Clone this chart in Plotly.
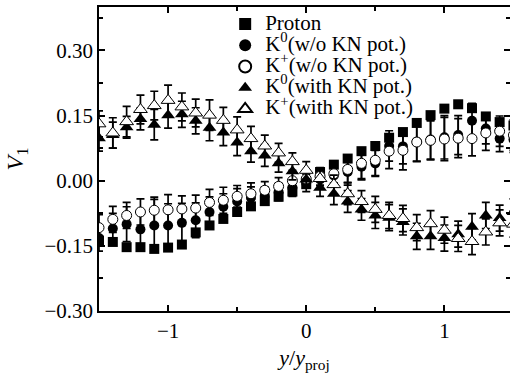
import plotly.graph_objects as go

x_vals = [-1.5, -1.4, -1.3, -1.2, -1.1, -1.0, -0.9, -0.8, -0.7, -0.6, -0.5, -0.4, -0.3, -0.2, -0.1,
          0.0, 0.1, 0.2, 0.3, 0.4, 0.5, 0.6, 0.7, 0.8, 0.9, 1.0, 1.1, 1.2, 1.3, 1.4, 1.5]

proton = [-0.138, -0.141, -0.153, -0.153, -0.157, -0.154, -0.147, -0.119, -0.103, -0.088, -0.072, -0.059, -0.047, -0.037, -0.025,
          -0.008, 0.020, 0.037, 0.051, 0.068, 0.080, 0.099, 0.112, 0.133, 0.151, 0.166, 0.176, 0.167, 0.148, 0.135, 0.127]

k0_wo = [-0.132, -0.110, -0.100, -0.112, -0.103, -0.103, -0.097, -0.091, -0.072, -0.060, -0.048, -0.039, -0.034, -0.026, -0.016,
         -0.005, 0.003, 0.012, 0.020, 0.032, 0.040, 0.080, 0.079, 0.090, 0.095, 0.100, 0.105, 0.138, 0.120, 0.097, 0.095]
k0_wo_err = [0.030, 0.035, 0.040, 0.040, 0.060, 0.050, 0.045, 0.040, 0.035, 0.030, 0.030, 0.025, 0.020, 0.020, 0.020,
             0.020, 0.020, 0.025, 0.030, 0.030, 0.030, 0.035, 0.040, 0.045, 0.045, 0.050, 0.045, 0.040, 0.035, 0.030, 0.030]

kp_wo = [-0.108, -0.089, -0.080, -0.072, -0.068, -0.067, -0.065, -0.063, -0.050, -0.045, -0.036, -0.030, -0.022, -0.013, 0.000,
         0.004, 0.010, 0.016, 0.026, 0.040, 0.047, 0.068, 0.070, 0.089, 0.093, 0.096, 0.098, 0.097, 0.110, 0.114, 0.105]
kp_wo_err = [0.030, 0.030, 0.030, 0.030, 0.030, 0.035, 0.030, 0.030, 0.030, 0.030, 0.025, 0.025, 0.020, 0.020, 0.020,
             0.020, 0.020, 0.025, 0.030, 0.035, 0.035, 0.040, 0.045, 0.045, 0.045, 0.050, 0.045, 0.040, 0.040, 0.035, 0.035]

k0_with = [0.098, 0.105, 0.123, 0.142, 0.129, 0.151, 0.153, 0.138, 0.122, 0.111, 0.088, 0.068, 0.058, 0.040, 0.022,
           0.003, -0.016, -0.030, -0.048, -0.066, -0.080, -0.085, -0.095, -0.128, -0.128, -0.132, -0.123, -0.106, -0.080, -0.086, -0.072]
k0_with_err = [0.030, 0.030, 0.025, 0.025, 0.035, 0.030, 0.030, 0.030, 0.030, 0.030, 0.030, 0.025, 0.025, 0.020, 0.020,
               0.020, 0.020, 0.025, 0.025, 0.025, 0.030, 0.030, 0.030, 0.030, 0.030, 0.030, 0.030, 0.030, 0.030, 0.030, 0.030]

kp_with = [0.131, 0.110, 0.136, 0.164, 0.173, 0.185, 0.170, 0.156, 0.151, 0.139, 0.117, 0.097, 0.080, 0.064, 0.044,
           0.024, 0.005, -0.009, -0.030, -0.048, -0.066, -0.080, -0.087, -0.108, -0.099, -0.114, -0.133, -0.140, -0.118, -0.097, -0.100]
kp_with_err = [0.030, 0.035, 0.035, 0.033, 0.033, 0.035, 0.032, 0.032, 0.035, 0.030, 0.030, 0.028, 0.025, 0.022, 0.020,
               0.020, 0.020, 0.022, 0.025, 0.025, 0.030, 0.030, 0.030, 0.030, 0.030, 0.030, 0.030, 0.030, 0.030, 0.030, 0.030]

names = ["Proton", "K<sup>0</sup>(w/o KN pot.)", "K<sup>+</sup>(w/o KN pot.)",
         "K<sup>0</sup>(with KN pot.)", "K<sup>+</sup>(with KN pot.)"]

y_ticks = [-0.30, -0.15, 0.00, 0.15, 0.30]
y_ticktext = ["\u22120.30", "\u22120.15", "0.00", "0.15", "0.30"]
y_minor = [-0.225, -0.075, 0.075, 0.225, 0.375]

FONT = '"Liberation Serif", "Times New Roman", serif'


def leg(name):
    return '<span style="font-size:21px">' + name + '</span>'


def err(arr):
    return dict(type="data", array=arr, visible=True, color="black", thickness=1.7, width=4)


fig = go.Figure()
fig.add_trace(go.Scatter(x=x_vals, y=proton, mode="markers", name=leg(names[0]),
                         marker=dict(symbol="square", size=10, color="black", line=dict(width=0))))
fig.add_trace(go.Scatter(x=x_vals, y=k0_wo, mode="markers", name=leg(names[1]), error_y=err(k0_wo_err),
                         marker=dict(symbol="circle", size=10, color="black", line=dict(width=0))))
fig.add_trace(go.Scatter(x=x_vals, y=kp_wo, mode="markers", name=leg(names[2]), error_y=err(kp_wo_err),
                         marker=dict(symbol="circle", size=10, color="white", line=dict(width=1, color="black"))))
fig.add_trace(go.Scatter(x=x_vals, y=k0_with, mode="markers", name=leg(names[3]), error_y=err(k0_with_err),
                         marker=dict(symbol="triangle-up", size=12, color="black", line=dict(width=0))))
fig.add_trace(go.Scatter(x=x_vals, y=kp_with, mode="markers", name=leg(names[4]), error_y=err(kp_with_err),
                         marker=dict(symbol="triangle-up", size=12, color="white", line=dict(width=1, color="black"))))

# empty trace so the right-hand tick axis is drawn
fig.add_trace(go.Scatter(x=[None], y=[None], yaxis="y2", showlegend=False, hoverinfo="skip"))

fig.update_layout(
    width=510, height=379,
    margin=dict(l=99, r=0, t=7, b=68),
    paper_bgcolor="white", plot_bgcolor="white",
    font=dict(family=FONT, size=21, color="black"),
    showlegend=True,
    legend=dict(x=0.307, y=0.995, xanchor="left", yanchor="top", bgcolor="rgba(0,0,0,0)",
                font=dict(family=FONT, size=14), itemsizing="constant", tracegroupgap=0),
    xaxis=dict(range=[-1.5, 1.475], tickmode="linear", tick0=0, dtick=1,
               ticks="inside", ticklen=6, tickwidth=1.5, tickcolor="black",
               showline=True, linecolor="black", linewidth=1.5, mirror="ticks",
               showgrid=False, zeroline=False,
               minor=dict(ticks="inside", dtick=0.5, tick0=0, ticklen=4, tickwidth=1.5, tickcolor="black", showgrid=False),
               tickfont=dict(family=FONT, size=21),
               title=dict(text="<i>y</i>/<i>y</i><sub>proj</sub>", font=dict(family=FONT, size=22), standoff=8)),
    yaxis=dict(range=[-0.30, 0.40], tickmode="array", tickvals=y_ticks, ticktext=y_ticktext,
               ticks="inside", ticklen=6, tickwidth=1.5, tickcolor="black",
               showline=True, linecolor="black", linewidth=1.5, mirror=False,
               showgrid=False, zeroline=False,
               minor=dict(ticks="inside", tickmode="array", tickvals=y_minor,
                          ticklen=4, tickwidth=1.5, tickcolor="black", showgrid=False),
               tickfont=dict(family=FONT, size=21),
               title=dict(text="<i>V</i><sub>1</sub>", font=dict(family=FONT, size=24), standoff=14)),
    yaxis2=dict(range=[-0.30, 0.40], overlaying="y", side="right", tickmode="array",
                tickvals=y_ticks, showticklabels=False,
                ticks="inside", ticklen=6, tickwidth=1.5, tickcolor="black",
                showline=False, showgrid=False, zeroline=False,
                minor=dict(ticks="inside", tickmode="array", tickvals=y_minor,
                           ticklen=4, tickwidth=1.5, tickcolor="black", showgrid=False)),
)

fig.write_html("out.html", config={"displayModeBar": False},
               post_script="document.body.style.margin='0';document.body.style.overflow='hidden';")
